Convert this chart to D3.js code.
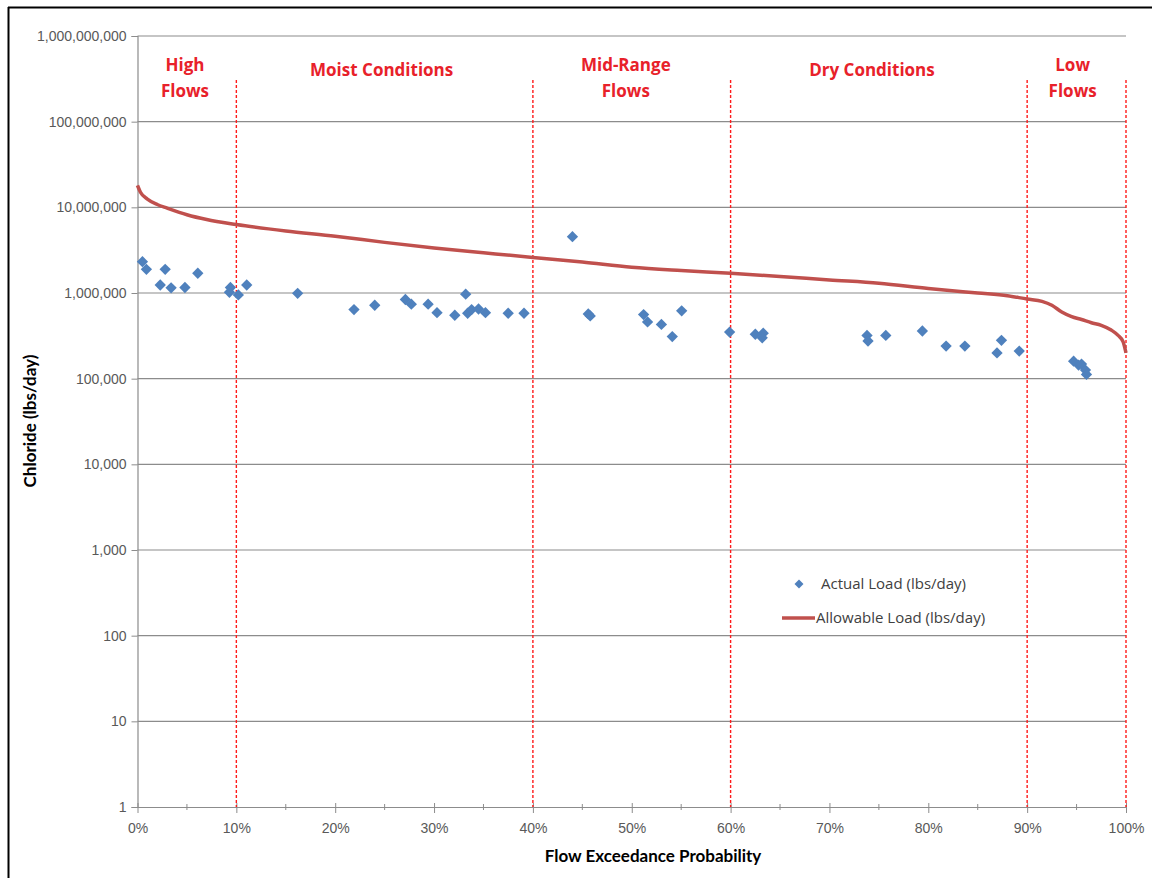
<!DOCTYPE html>
<html>
<head>
<meta charset="utf-8">
<script src="https://cdn.jsdelivr.net/npm/d3@7"></script>
<style>
  body { margin: 0; background: #fff; }
  svg { display: block; font-family: "Open Sans", sans-serif; }
  .tickText { fill: #595959; font-size: 14px; }
  .axisTitle { fill: #000; font-size: 17px; font-weight: bold; font-family: Lato, sans-serif; }
  .zoneText { fill: #e8212a; font-size: 17px; font-weight: bold; }
  .legendText { fill: #404040; font-size: 15px; }
</style>
</head>
<body>
<div id="chart"></div>
<script>
// Allowable load curve (flow exceedance %, lbs/day)
const allowPct = [0, 0.3, 1, 2, 3, 5, 7, 10, 15, 20, 25, 30, 35, 40, 45, 50, 55, 60, 65, 70, 75, 80, 85, 88, 90, 91.5, 92.5, 93.5, 94.5, 95.5, 96.5, 97.5, 98.5, 99.2, 99.7, 100];
const allowLoad = [18.0e6, 15.0e6, 12.5e6, 10.8e6, 9.8e6, 8.2e6, 7.2e6, 6.3e6, 5.3e6, 4.6e6, 3.9e6, 3.35e6, 2.95e6, 2.6e6, 2.3e6, 2.0e6, 1.83e6, 1.7e6, 1.56e6, 1.42e6, 1.3e6, 1.13e6, 1.0e6, 0.93e6, 0.85e6, 0.8e6, 0.72e6, 0.6e6, 0.53e6, 0.49e6, 0.45e6, 0.42e6, 0.37e6, 0.32e6, 0.27e6, 0.2e6];

// Actual load samples
const actualPct = [0.5, 0.9, 2.3, 2.8, 3.4, 4.8, 6.1, 9.4, 9.3, 10.2, 11.05, 16.2, 21.9, 24.0, 27.1, 27.7, 29.4, 30.3, 32.1, 33.2, 33.4, 33.8, 34.5, 35.2, 37.5, 39.1, 44.0, 45.6, 45.8, 51.2, 51.6, 53.0, 54.1, 55.05, 59.9, 62.5, 63.3, 63.2, 73.8, 73.9, 75.7, 79.4, 81.8, 83.7, 86.95, 87.4, 89.2, 94.7, 95.2, 95.5, 95.9, 96.0];
const actualLoad = [2.32e6, 1.89e6, 1.24e6, 1.89e6, 1.15e6, 1.16e6, 1.70e6, 1.16e6, 1.02e6, 0.95e6, 1.24e6, 0.99e6, 0.64e6, 0.72e6, 0.84e6, 0.74e6, 0.74e6, 0.59e6, 0.55e6, 0.97e6, 0.58e6, 0.64e6, 0.65e6, 0.59e6, 0.58e6, 0.58e6, 4.54e6, 0.57e6, 0.54e6, 0.56e6, 0.46e6, 0.43e6, 0.31e6, 0.62e6, 0.35e6, 0.33e6, 0.34e6, 0.30e6, 0.32e6, 0.275e6, 0.32e6, 0.36e6, 0.24e6, 0.24e6, 0.20e6, 0.28e6, 0.21e6, 0.16e6, 0.144e6, 0.148e6, 0.126e6, 0.112e6];

const yTicks = [1, 10, 100, 1000, 1e4, 1e5, 1e6, 1e7, 1e8, 1e9];
const xTicks = [0, 10, 20, 30, 40, 50, 60, 70, 80, 90, 100];
const xMinorTicks = [5, 15, 25, 35, 45, 55, 65, 75, 85, 95];
const zoneBreaks = [10, 40, 60, 90, 100];
const zoneLabels = [
    {lines: ['High', 'Flows'], pct: 4.8},
    {lines: ['Moist Conditions'], pct: 24.7},
    {lines: ['Mid-Range', 'Flows'], pct: 49.4},
    {lines: ['Dry Conditions'], pct: 74.3},
    {lines: ['Low', 'Flows'], pct: 94.6}
];

const width = 1152, height = 878;
const margin = {top: 36, right: 26, bottom: 71, left: 137.5};
const innerWidth = width - margin.left - margin.right;
const innerHeight = height - margin.top - margin.bottom;

const svg = d3.select('#chart').append('svg')
    .attr('width', width)
    .attr('height', height);

// outer frame (left and top edges visible)
svg.append('line').attr('x1', 8.5).attr('x2', 8.5).attr('y1', 7).attr('y2', height)
    .attr('stroke', '#000').attr('stroke-width', 2);
svg.append('line').attr('x1', 8).attr('x2', width).attr('y1', 7.5).attr('y2', 7.5)
    .attr('stroke', '#000').attr('stroke-width', 2);

const g = svg.append('g')
    .attr('transform', `translate(${margin.left},${margin.top})`);

const x = d3.scaleLinear().domain([0, 100]).range([0, innerWidth]);
const y = d3.scaleLog().domain([1, 1e9]).range([innerHeight, 0]);

// horizontal gridlines
g.selectAll('.grid')
    .data(yTicks.slice(1))
    .enter().append('line')
    .attr('x1', 0).attr('x2', innerWidth)
    .attr('y1', d => y(d)).attr('y2', d => y(d))
    .attr('stroke', '#8c8c8c')
    .attr('stroke-width', 1.2);

// y axis
const yAxis = d3.axisLeft(y)
    .tickValues(yTicks)
    .tickFormat(d3.format(','))
    .tickSize(6)
    .tickPadding(5);
const yG = g.append('g').call(yAxis);
yG.select('.domain').attr('stroke', '#8c8c8c').attr('stroke-width', 1.2);
yG.selectAll('.tick line').attr('stroke', '#8c8c8c');
yG.selectAll('text').attr('class', 'tickText').attr('font-family', null).attr('font-size', null);

// x axis
const xAxis = d3.axisBottom(x)
    .tickValues(xTicks)
    .tickFormat(d => d + '%')
    .tickSize(6)
    .tickPadding(10)
    .tickSizeOuter(0);
const xG = g.append('g')
    .attr('transform', `translate(0,${innerHeight})`)
    .call(xAxis);
xG.select('.domain').attr('stroke', '#8c8c8c').attr('stroke-width', 1.2);
xG.selectAll('.tick line').attr('stroke', '#8c8c8c').attr('y1', -4);
xG.selectAll('text').attr('class', 'tickText').attr('font-family', null).attr('font-size', null);

g.append('g')
    .selectAll('line')
    .data(xMinorTicks)
    .enter().append('line')
    .attr('x1', d => x(d)).attr('x2', d => x(d))
    .attr('y1', innerHeight - 3).attr('y2', innerHeight + 3)
    .attr('stroke', '#8c8c8c');

// zone break lines
g.selectAll('.zoneLine')
    .data(zoneBreaks)
    .enter().append('line')
    .attr('x1', d => x(d)).attr('x2', d => x(d))
    .attr('y1', 44).attr('y2', innerHeight)
    .attr('stroke', '#ff1a1a')
    .attr('stroke-width', 1.4)
    .attr('stroke-dasharray', '3,2');

// zone labels
zoneLabels.forEach(z => {
    const t = g.append('text')
        .attr('class', 'zoneText')
        .attr('text-anchor', 'middle')
        .attr('x', x(z.pct))
        .attr('y', z.lines.length === 1 ? 40 : 35);
    z.lines.forEach((l, i) => {
        t.append('tspan')
            .attr('x', x(z.pct))
            .attr('dy', i === 0 ? 0 : 25.5)
            .text(l);
    });
});

// allowable load line
const line = d3.line()
    .x((d, i) => x(allowPct[i]))
    .y(d => y(d))
    .curve(d3.curveMonotoneX);
g.append('path')
    .datum(allowLoad)
    .attr('d', line)
    .attr('fill', 'none')
    .attr('stroke', '#c0504d')
    .attr('stroke-width', 3.5);

// actual load diamonds
const diamond = d3.symbol().type(d3.symbolSquare).size(64);
g.selectAll('.pt')
    .data(actualLoad)
    .enter().append('path')
    .attr('d', diamond)
    .attr('transform', (d, i) => `translate(${x(actualPct[i])},${y(d)}) rotate(45)`)
    .attr('fill', '#4f81bd');

// legend
const leg = svg.append('g');
leg.append('path')
    .attr('d', d3.symbol().type(d3.symbolSquare).size(40))
    .attr('transform', 'translate(799,584) rotate(45)')
    .attr('fill', '#4f81bd');
leg.append('text')
    .attr('class', 'legendText')
    .attr('x', 821).attr('y', 589)
    .text('Actual Load (lbs/day)');
leg.append('line')
    .attr('x1', 782).attr('x2', 815)
    .attr('y1', 618).attr('y2', 618)
    .attr('stroke', '#c0504d')
    .attr('stroke-width', 3.5);
leg.append('text')
    .attr('class', 'legendText')
    .attr('x', 816).attr('y', 623)
    .text('Allowable Load (lbs/day)');

// axis titles
svg.append('text')
    .attr('class', 'axisTitle')
    .attr('text-anchor', 'middle')
    .attr('transform', 'translate(36,421) rotate(-90)')
    .text('Chloride (lbs/day)');

svg.append('text')
    .attr('class', 'axisTitle')
    .attr('text-anchor', 'middle')
    .attr('x', 653).attr('y', 862)
    .text('Flow Exceedance Probability');
</script>
</body>
</html>
